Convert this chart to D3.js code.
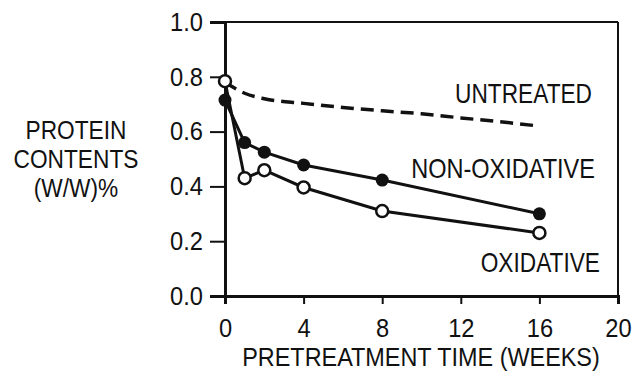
<!DOCTYPE html>
<html>
  <head>
    <meta charset="utf-8">
    <title>protein contents</title>
    <style>
      body { margin: 0; background: white; }
      svg { display: block; }
      text { font-family: "Liberation Sans", Arial, sans-serif; fill: #111; }
    </style>
  </head>
  <body>
    <div id="chart"></div>

    <script src="https://d3js.org/d3.v7.min.js"></script>
    <script>
    // values
    var weeks = [0, 1, 2, 4, 8, 16];
    var nonOxidative = [0.715, 0.56, 0.525, 0.478, 0.423, 0.30];
    var oxidative = [0.784, 0.43, 0.459, 0.396, 0.31, 0.23];
    var untreatedWeeks = [0, 1, 2, 4, 6, 8, 10, 12, 14, 16];
    var untreated = [0.78, 0.74, 0.72, 0.703, 0.688, 0.676, 0.665, 0.65, 0.636, 0.62];
    var xTicks = [0, 4, 8, 12, 16, 20];
    var yTicks = [0.0, 0.2, 0.4, 0.6, 0.8, 1.0];

    var width = 636;
    var height = 376;
    var margin = {top: 22, right: 18, bottom: 80, left: 225};
    var w = width - margin.left - margin.right;
    var h = height - margin.top - margin.bottom;

    var svg = d3.select("#chart").append("svg")
      .attr("width", width)
      .attr("height", height);

    var g = svg.append("g")
      .attr("transform", "translate(" + margin.left + "," + margin.top + ")");

    var x = d3.scaleLinear().domain([0, 20]).range([0, w]);
    var y = d3.scaleLinear().domain([0, 1]).range([h, 0]);

    // the figure uses a condensed face, squeeze the text to match
    function condense(sel, k) {
      sel.each(function() {
        var len = this.getComputedTextLength();
        d3.select(this).attr("textLength", len * k).attr("lengthAdjust", "spacingAndGlyphs");
      });
    }

    // frame top and right
    g.append("line").attr("x1", 0).attr("x2", w).attr("y1", 0).attr("y2", 0)
      .attr("stroke", "#111").attr("stroke-width", 2);
    g.append("line").attr("x1", w).attr("x2", w).attr("y1", 0).attr("y2", h)
      .attr("stroke", "#111").attr("stroke-width", 2);

    var yAxis = g.append("g")
      .call(d3.axisLeft(y).tickValues(yTicks).tickFormat(d3.format(".1f")).tickSize(15).tickPadding(7));
    var xAxis = g.append("g")
      .attr("transform", "translate(0," + h + ")")
      .call(d3.axisBottom(x).tickValues(xTicks).tickFormat(d3.format("d")).tickSize(8).tickPadding(10));

    [yAxis, xAxis].forEach(function(a) {
      a.attr("font-family", null);
      a.select(".domain").attr("stroke", "#111").attr("stroke-width", 3);
      a.selectAll(".tick line").attr("stroke", "#111").attr("stroke-width", 2);
      a.selectAll(".tick text").attr("font-size", 26).attr("fill", "#111");
      condense(a.selectAll(".tick text"), 0.91);
    });
    xAxis.selectAll(".tick text").attr("dy", "0.88em");

    var line = d3.line()
      .x(function(d) { return x(d[0]); })
      .y(function(d) { return y(d[1]); });

    var dashed = d3.line()
      .curve(d3.curveMonotoneX)
      .x(function(d) { return x(d[0]); })
      .y(function(d) { return y(d[1]); });

    g.append("path")
      .datum(d3.zip(untreatedWeeks, untreated))
      .attr("d", dashed)
      .attr("fill", "none")
      .attr("stroke", "#111")
      .attr("stroke-width", 3.5)
      .attr("stroke-dasharray", "13,7");

    g.append("path")
      .datum(d3.zip(weeks, nonOxidative))
      .attr("d", line)
      .attr("fill", "none")
      .attr("stroke", "#111")
      .attr("stroke-width", 3);

    g.append("path")
      .datum(d3.zip(weeks, oxidative))
      .attr("d", line)
      .attr("fill", "none")
      .attr("stroke", "#111")
      .attr("stroke-width", 3);

    g.selectAll("circle.filled")
      .data(d3.zip(weeks, nonOxidative))
      .enter()
      .append("circle")
      .attr("class", "filled")
      .attr("cx", function(d) { return x(d[0]); })
      .attr("cy", function(d) { return y(d[1]); })
      .attr("r", 6.5)
      .attr("fill", "#111");

    g.selectAll("circle.open")
      .data(d3.zip(weeks, oxidative))
      .enter()
      .append("circle")
      .attr("class", "open")
      .attr("cx", function(d) { return x(d[0]); })
      .attr("cy", function(d) { return y(d[1]); })
      .attr("r", 6)
      .attr("fill", "white")
      .attr("stroke", "#111")
      .attr("stroke-width", 2.5);

    // series labels
    var t1 = svg.append("text").attr("x", 592).attr("y", 103).attr("text-anchor", "end")
      .attr("font-size", 28).text("UNTREATED");
    var t2 = svg.append("text").attr("x", 595).attr("y", 178).attr("text-anchor", "end")
      .attr("font-size", 28).text("NON-OXIDATIVE");
    var t3 = svg.append("text").attr("x", 600).attr("y", 272).attr("text-anchor", "end")
      .attr("font-size", 28).text("OXIDATIVE");
    condense(t1, 0.81);
    condense(t2, 0.84);
    condense(t3, 0.81);

    // axis titles
    var xt = svg.append("text").attr("x", 421).attr("y", 366).attr("text-anchor", "middle")
      .attr("font-size", 26).text("PRETREATMENT TIME (WEEKS)");
    condense(xt, 0.9);

    var yTitle = ["PROTEIN", "CONTENTS", "(W/W)%"];
    var yt = svg.selectAll("text.ytitle")
      .data(yTitle)
      .enter()
      .append("text")
      .attr("class", "ytitle")
      .attr("x", 76)
      .attr("y", function(d, i) { return 139 + i * 29; })
      .attr("text-anchor", "middle")
      .attr("font-size", 25.5)
      .text(function(d) { return d; });
    condense(yt, 0.89);
    </script>
  </body>
</html>
